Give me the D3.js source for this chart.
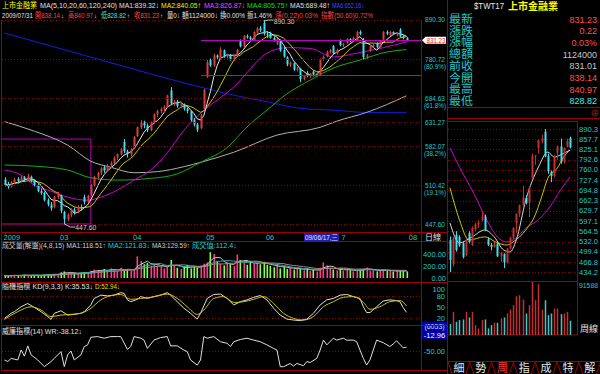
<!DOCTYPE html>
<html><head><meta charset="utf-8">
<script src="https://cdn.jsdelivr.net/npm/d3@7"></script>
<style>
html,body{margin:0;padding:0;background:#000;overflow:hidden}
svg{display:block}
text{font-family:'Liberation Sans','Noto Sans CJK TC',sans-serif}
</style></head><body>
<script>
// ---- daily candles (index 0 = early Feb 2009, last = 2009/07/31)
const dailyOpen = [520,512,508,515,521,517,524,520,525,518,510,500,497,485,478,474,490,492,466,455,462,470,466,474,490,482,494,510,525,532,542,536,545,550,560,566,590,572,566,578,602,620,632,624,614,630,648,655,660,664,702,672,676,666,670,660,655,635,626,618,660,735,778,764,790,782,804,787,792,780,790,830,815,844,840,832,853,866,882,850,852,838,822,832,805,785,766,770,753,755,730,745,738,748,741,742,780,788,800,815,796,830,818,824,835,830,832,855,834,786,802,815,824,813,834,855,846,855,846,862,842,838.14];
const dailyHigh = [524,516,518,523,524,527,526,530,527,520,512,504,499,488,482,492,499,494,468,464,472,473,477,478,494,494,512,527,534,542,545,548,553,562,568,578,596,575,578,602,622,636,634,628,632,650,658,663,668,692,710,680,680,676,672,663,657,640,630,648,706,778,782,795,793,812,806,795,794,792,808,834,846,848,843,857,870,872,890.3,856,856,842,838,834,812,788,774,772,760,758,740,750,745,752,748,782,790,803,808,818,808,834,824,838,837,842,858,860,838,794,818,822,826,832,858,860,858,857,855,866,846,840.97];
const dailyLow = [508,504,506,512,513,515,516,518,515,508,498,494,483,475,468,472,487,464,447.6,452,458,462,464,468,478,480,492,508,520,528,532,534,540,548,555,564,568,560,562,576,600,616,618,610,612,628,642,650,652,662,668,666,662,662,656,650,632,622,610,616,658,732,760,760,780,780,784,782,776,776,788,812,813,836,830,830,850,855,845,838,836,828,818,800,784,762,760,750,748,722,726,734,732,738,736,740,776,785,795,792,792,815,812,822,826,828,830,846,780,780,800,812,810,811,832,846,844,846,842,840,834,828.82];
const dailyClose = [512,508,515,520,517,524,520,526,518,510,500,497,485,478,472,490,496,468,455,462,470,466,474,472,482,492,510,525,532,540,536,545,550,560,566,575,572,566,575,600,620,630,624,614,630,648,655,660,664,690,672,676,666,672,660,655,635,626,615,646,704,772,764,790,785,806,787,792,780,789,806,815,844,840,835,855,866,860,850,848,838,832,835,803,787,766,770,753,756,730,736,738,742,741,745,780,786,800,805,796,805,818,820,835,830,838,855,850,786,790,815,818,813,830,855,850,855,850,852,842,838,831.23];
const dailyVolume = [40,35,45,50,38,42,55,48,40,45,50,42,55,60,50,70,65,95,110,80,75,85,70,90,100,95,120,140,130,110,150,125,160,140,115,170,135,150,120,145,360,280,230,250,200,240,210,190,160,180,300,200,170,150,180,220,160,190,175,210,240,260,430,400,280,240,210,260,230,200,390,300,260,220,280,240,250,230,270,220,200,180,220,160,190,150,175,140,160,150,130,160,120,140,110,170,260,210,150,140,130,160,120,145,135,110,125,140,150,175,120,130,110,125,140,115,120,105,130,118,112,110];

// long moving averages (bar index, value)
const ma20Idx = [0,5,9,14,19,25,29,34,39,44,49,54,59,69,79,85,92,99,106,114,121];
const ma20Val = [537,528,510,500,490,485,490,502,519,537,569,614,650,710,796,811,809,786,796,811,826.87];
const ma60Idx = [0,9,19,26,34,44,52,59,67,73,79,85,92,99,107,115,121];
const ma60Val = [546,544,537,523,519,522,530,551,579,621,657,694,727,757,778,799,805.75];
const ma120Idx = [0,9,19,26,32,39,46,54,59,69,82,95,100,109,121];
const ma120Val = [632,612,584,553,542,532,534,543,551,570,604,620,633,652,689.48];
const ma240Idx = [0,29,59,69,79,89,99,109,121];
const ma240Val = [852,778,710,691,676,661,657,652,652.16];

// KD and WR
const kIdx = [0,2,3,5,7,9,11,13,14,15,17,19,21,23,24,26,27,29,31,33,35,36,37,38,40,41,43,45,47,49,50,52,54,56,58,59,61,63,65,67,69,71,73,75,77,79,81,83,85,87,89,91,93,95,97,99,101,103,105,107,108,109,110,112,114,116,118,119,120,121];
const kVal = [19,33,37.5,51,60,49,37.5,24,16,33,40,28,30,33,37.5,56,74,83,81,83,90,88,70,65,71.5,79,74,79,83,90,83,65,47,33,17,33,74,85,86,74,56,65,70,77,82,70,47,28,17,14.5,12.7,17,33,56,70,74,83,85,79,74,51,35,35,51,67,70,68,65,49,35.53];
const dIdx = [0,4,8,11,14,17,20,23,26,29,31,35,38,41,44,49,52,55,58,60,63,66,69,72,75,78,81,84,87,90,93,96,99,102,105,108,110,113,116,119,121];
const dVal = [16,37.5,51,42,24,28,30,33,47,70,79,85,71.5,74,77,86,74,51,30,42,74,79,63,65,71.5,79,60,33,19,14.5,24,51,65,77,79,63,44,51,65,68,52.94];
const wrIdx = [0,1,2,4,5,6,7,8,10,12,14,15,17,18,19,20,21,23,24,25,26,28,30,32,34,35,37,38,39,41,42,43,45,47,49,50,52,54,55,56,58,59,60,61,63,65,67,68,69,71,73,75,77,79,81,82,83,84,86,87,88,90,91,92,94,95,96,97,99,100,102,103,105,106,108,109,110,111,112,114,116,117,118,120,121];
const wrVal = [-78,-83,-73,-78,-47,-66,-34,-62,-78,-99,-83,-73,-52,-99,-62,-50,-78,-62,-36,-31,-7,-5,-10,-5,-5,-5,-45,-36,-5,-10,-16,-42,-16,-8,-5,-34,-34,-47,-52,-78,-94,-78,-5,-10,-5,-21,-26,-36,-21,-14,-10,-16,-21,-31,-42,-47,-99,-99,-89,-97,-89,-96,-83,-86,-73,-47,-16,-31,-10,-16,-10,-16,-16,-21,-73,-94,-78,-47,-16,-24,-36,-28,-18,-40,-38.12];

// axis ticks
const monthLabels = ["2009","03","04","05","06","08"];
const monthIdx = [0,17,39,61,79,122];
const gridLevels = [890.30,780.72,684.63,631.27,582.07,510.42,447.60];
const pctLevels = [780.72,684.63,582.07,510.42];
const pctLabels = ["(80.9%)","(61.8%)","(38.2%)","(19.1%)"];
const lastClose = 831.23, periodHigh = 890.30, periodLow = 447.60;
const volTicks = [400,200,0];
const kdTicks = [100,80,50,20];

// ---- weekly panel
const wOpen = [537,460,553,547,527,489,559,521,570,588,600,612,540,521,515,525,485,492,466,510,545,590,620,648,672,655,735,804,830,853,882,805,755,741,815,835,786,834,862];
const wHigh = [548,548,565,552,532,542,565,580,592,600,628,618,545,528,530,527,499,495,512,548,578,622,650,710,680,706,812,808,857,872,890.3,812,758,808,838,860,832,860,866];
const wLow = [435,452,500,515,478,485,526,518,565,575,596,565,518,504,512,483,468,447.6,462,508,540,560,610,642,650,610,732,776,812,845,800,748,722,736,792,780,780,832,828.82];
const wClose = [473,543,505,521,483,537,531,575,588,594,612,569,521,515,526,485,496,466,510,545,575,620,648,672,655,704,806,806,855,860,803,756,741,805,835,786,830,852,831.23];
const wVolume = [18900,40000,22900,25800,26900,40000,30300,40000,17200,11400,25800,26900,11400,17200,21200,21200,28600,30300,37200,44000,51500,67000,68700,61200,37200,51500,91588,60100,87600,44000,60100,34300,37200,45800,45800,36000,37200,40000,24600];
const wWhiteIdx = [0,3,7,11,14,17,19,21,24,28,31,33,35,38];
const wWhiteVal = [591,528,547,569,547,505,499,537,664,769,817,801,808,823.5];
const wYellowIdx = [0,3,6,11,15,18,20,24,27,29,31,34,36,38];
const wYellowVal = [703,601,537,547,528,521,531,569,617,674,734,766,801,823];
const wMagIdx = [0,3,7,12,15,18,21,24,28,32,35,38];
const wMagVal = [830,769,696,594,547,531,544,575,601,648,696,738];
const wLevels = [890.3,857.7,825.1,792.6,760.0,727.4,694.8,662.3,629.7,597.1,564.5,532.0,499.4,466.8,434.2];

// quote table
const infoLabels = ["最新","漲跌","漲幅","總額","前收","今開","最高","最低"];
const infoValues = ["831.23","0.22","0.03%","1124000","831.01","838.14","840.97","828.82"];
const infoColors = ["#ff5050","#ff5050","#ff5050","#c8c8c8","#c8c8c8","#ff5050","#ff5050","#40e8e8"];
const tabLabels = ["細","勢","周","指","成","特","解"];

// ---------------------------------------------------------------
const svg = d3.select("body").append("svg").attr("width", 600).attr("height", 374)
  .style("background", "#000");

const FRAME = "#a00000", GRID = "#900000", AXIS = "#20c8c8";
const UP = "#d84040", DOWN = "#40e0f0";

function txt(x, y, s, color, size, opt) {
  opt = opt || {};
  const t = svg.append("text").attr("x", x).attr("y", y).attr("fill", color)
    .attr("font-size", size).text(s);
  if (opt.anchor) t.attr("text-anchor", opt.anchor);
  if (opt.w) t.attr("textLength", opt.w).attr("lengthAdjust", "spacingAndGlyphs");
  if (opt.bold) t.attr("font-weight", "bold");
  return t;
}
// one text line made of coloured pieces: [text, x, colour, width, size]
function row(yy, size, segs) {
  const t = svg.append("text").attr("y", yy).attr("font-size", size);
  segs.forEach(s => {
    const ts = t.append("tspan").attr("fill", s[2]).attr("x", s[1]).text(s[0]);
    if (s[3]) ts.attr("textLength", s[3]).attr("lengthAdjust", "spacingAndGlyphs");
    if (s[4]) ts.attr("font-size", s[4]);
  });
}
function hline(x1, x2, y, color, dash) {
  const l = svg.append("line").attr("x1", x1).attr("x2", x2).attr("y1", y).attr("y2", y)
    .attr("stroke", color).attr("stroke-width", 1).attr("shape-rendering", "crispEdges");
  if (dash) l.attr("stroke-dasharray", dash);
}
function vline(x, y1, y2, color) {
  svg.append("line").attr("x1", x).attr("x2", x).attr("y1", y1).attr("y2", y2)
    .attr("stroke", color).attr("stroke-width", 1).attr("shape-rendering", "crispEdges");
}
function movingAvg(arr, n) {
  return arr.map((v, i) => d3.mean(arr.slice(Math.max(0, i - n + 1), i + 1)));
}

// scales
const x = d3.scaleLinear().domain([0, 121]).range([4.5, 406.5]);
const y = d3.scaleLog().domain([periodLow, periodHigh]).range([224, 20]);
const yVol = d3.scaleLinear().domain([0, 400]).range([278, 254]);
const yKD = d3.scaleLinear().domain([20, 100]).range([318, 289]);
const yWR = d3.scaleLinear().domain([-100, 0]).range([367, 335]);

// ---- header rows
row(8, 8, [
  ["上市金融業", 2, "#ffff00", 35],
  ["MA(5,10,20,60,120,240)", 40, "#e0e0e0", 77],
  ["MA1:839.32↓", 119, "#e0e0e0", 40],
  ["MA2:840.05↑", 161, "#f0f000", 40],
  ["MA3:826.87↓", 204, "#ff40ff", 41],
  ["MA4:805.75↑", 247, "#00e000", 41],
  ["MA5:689.48↑", 290, "#e0e0e0", 40],
  ["MA6:652.16↓", 332, "#3050ff", 32]
]);
row(17.5, 8, [
  ["2009/07/31", 2, "#e0e0e0", 31],
  ["開838.14", 35, "#ff4040", 25], ["↓", 61, "#e0e0e0", 0, 6],
  ["高840.97", 68, "#ff4040", 25], ["↓", 94, "#e0e0e0", 0, 6],
  ["低828.82", 101, "#40e0e0", 25], ["↑", 127, "#e0e0e0", 0, 6],
  ["收831.23", 134, "#ff4040", 25], ["↑", 160, "#e0e0e0", 0, 6],
  ["量0↓", 167, "#e0e0e0", 13],
  ["額1124000↓", 182, "#e0e0e0", 36],
  ["換0.00%", 220, "#e0e0e0", 25],
  ["振1.46%", 247, "#e0e0e0", 25],
  ["漲(0.22)0.03%", 275, "#ff4040", 43],
  ["指數(50.60)0.72%", 321, "#ff4040", 52]
]);

// ---- main chart
const clip = svg.append("clipPath").attr("id", "mainClip");
clip.append("rect").attr("x", 2).attr("y", 19).attr("width", 419).attr("height", 213);
const g = svg.append("g").attr("clip-path", "url(#mainClip)");

gridLevels.forEach(v => hline(2, 421, Math.round(y(v)) + 0.5, GRID, "1,2"));

// magenta marker box around the low and range lines
g.append("path").attr("fill", "none").attr("stroke", "#c000c0")
  .attr("d", `M2,${y(596)}H${x(26)}V${y(periodLow)}H2`);
hline(x(59), 421, Math.round(y(lastClose)) + 0.5, "#c000c0");
hline(x(59), 421, Math.round(y(738.5)) + 0.5, "#c000c0");

[[ma240Idx, ma240Val, "#1020e0"], [ma120Idx, ma120Val, "#b0b0b0"],
 [ma60Idx, ma60Val, "#10b010"], [ma20Idx, ma20Val, "#d000d0"]].forEach(m => {
  g.append("path").attr("fill", "none").attr("stroke", m[2]).attr("stroke-width", 1)
    .attr("d", d3.line().x((d, i) => x(m[0][i])).y(d => y(d)).curve(d3.curveMonotoneX)(m[1]));
});

const idxAll = d3.range(dailyClose.length);
const ma5 = movingAvg(dailyClose, 5), ma10 = movingAvg(dailyClose, 10);
g.append("path").attr("fill", "none").attr("stroke", "#c8c800")
  .attr("d", d3.line().x((d, i) => x(i)).y(d => y(d))(ma10));
g.append("path").attr("fill", "none").attr("stroke", "#e8e8e8")
  .attr("d", d3.line().x((d, i) => x(i)).y(d => y(d))(ma5));

const candles = g.selectAll(".c").data(idxAll).enter().append("g");
candles.append("line")
  .attr("x1", i => Math.round(x(i)) + 0.5).attr("x2", i => Math.round(x(i)) + 0.5)
  .attr("y1", i => y(dailyHigh[i])).attr("y2", i => y(dailyLow[i]))
  .attr("stroke", i => dailyClose[i] >= dailyOpen[i] ? UP : DOWN);
candles.append("rect")
  .attr("x", i => Math.round(x(i)) - 0.5).attr("width", 2)
  .attr("y", i => y(Math.max(dailyOpen[i], dailyClose[i])))
  .attr("height", i => Math.max(1, Math.abs(y(dailyOpen[i]) - y(dailyClose[i]))))
  .attr("fill", i => dailyClose[i] >= dailyOpen[i] ? UP : DOWN);

// high / low markers
const hiI = dailyHigh.indexOf(periodHigh), loI = dailyLow.indexOf(periodLow);
svg.append("path").attr("fill", "none").attr("stroke", "#c0c0c0")
  .attr("d", `M${x(hiI)},${y(periodHigh) + 1}L${x(hiI) + 5},${y(periodHigh)}H${x(hiI) + 10}`);
txt(x(hiI) + 10, y(periodHigh) + 3.5, periodHigh.toFixed(2), "#d0d0d0", 7.5, {w: 21});
svg.append("path").attr("fill", "none").attr("stroke", "#c0c0c0")
  .attr("d", `M${x(loI)},${y(periodLow)}L${x(loI) + 6},${y(periodLow) + 3}H${x(loI) + 11}`);
txt(x(loI) + 11, y(periodLow) + 6, periodLow.toFixed(2), "#d0d0d0", 7.5, {w: 21});

// right price axis
gridLevels.slice(1).forEach(v => txt(425, y(v) + 3, v.toFixed(2), AXIS, 7.5, {w: 20}));
txt(425, y(periodHigh) + 2, periodHigh.toFixed(2), AXIS, 7, {w: 20});
pctLevels.forEach((v, i) => txt(424, y(v) + 10, pctLabels[i], AXIS, 7.5, {w: 22}));
const yl = y(lastClose);
svg.append("path").attr("fill", "#ffffff")
  .attr("d", `M422,${yl}L425.5,${yl - 3.5}H446V${yl + 3.5}H425.5Z`);
txt(436, yl + 3, lastClose.toFixed(2), "#ff2020", 7.5, {anchor: "middle", w: 19});

// date row
monthLabels.forEach((m, i) => txt(x(monthIdx[i]) - 1, 239.5, m, AXIS, 7.5));
monthIdx.forEach(i => vline(Math.round(x(i)) + 0.5, 232, 235, FRAME));
svg.append("rect").attr("x", 304).attr("y", 233).attr("width", 35).attr("height", 8).attr("fill", "#2020b0");
txt(305, 239.5, "09/06/17,三", "#e0e0ff", 7.5, {w: 33});
txt(341.5, 239.5, "7", AXIS, 7.5);
txt(425, 239.8, "日線", "#e0e0e0", 8);

// ---- volume panel
row(248, 7.5, [
  ["成交量(解盤)(4,8,15) MA1:118.51↑", 2, "#d0d0d0", 104],
  ["MA2:121.83↓", 108, "#20d0d0", 42],
  ["MA3:129.59↑", 152, "#d0d0d0", 38],
  ["成交值:112.4↓", 192, "#20d0d0", 45]
]);
svg.selectAll(".vb").data(idxAll).enter().append("rect")
  .attr("x", i => Math.round(x(i)) - 0.5).attr("width", 1.6)
  .attr("y", i => yVol(dailyVolume[i])).attr("height", i => yVol(0) - yVol(dailyVolume[i]))
  .attr("fill", i => dailyClose[i] >= dailyOpen[i] ? "#ff3c8c" : "#80ff50");
[[4, "#c8c8c8"], [8, "#20b0b0"], [15, "#b08080"]].forEach(m => {
  svg.append("path").attr("fill", "none").attr("stroke", m[1]).attr("stroke-width", 1)
    .attr("d", d3.line().x((d, i) => x(i)).y(d => yVol(d))(movingAvg(dailyVolume, m[0])));
});
volTicks.forEach(v => txt(446, yVol(v) + 2.5, v.toFixed(2), AXIS, 7.5, {anchor: "end"}));

// ---- KD panel
row(289, 7.5, [
  ["隨機指標 KD(9,3,3) K:35.53↓", 2, "#e0e0e0", 91],
  ["D:52.94↓", 95, "#e0e000", 25]
]);
[80, 20].forEach(v => hline(2, 421, Math.round(yKD(v)) + 0.5, GRID, "1,2"));
svg.append("path").attr("fill", "none").attr("stroke", "#e0e0e0")
  .attr("d", d3.line().x((d, i) => x(kIdx[i])).y(d => yKD(d))(kVal));
svg.append("path").attr("fill", "none").attr("stroke", "#c8c800")
  .attr("d", d3.line().x((d, i) => x(dIdx[i])).y(d => yKD(d)).curve(d3.curveMonotoneX)(dVal));
kdTicks.forEach(v => txt(445, yKD(v) + 2.5, String(v), AXIS, 7.5, {anchor: "end"}));

// ---- WR panel
txt(2, 334, "威廉指標(14) WR:-38.12↓", "#e0e0e0", 7.5, {w: 80});
hline(2, 421, Math.round(yWR(-50)) + 0.5, GRID, "1,2");
svg.append("path").attr("fill", "none").attr("stroke", "#e0e0e0")
  .attr("d", d3.line().x((d, i) => x(wrIdx[i])).y(d => yWR(d))(wrVal));
txt(445, yWR(-50) + 2.5, "-50.00", AXIS, 7.5, {anchor: "end"});
svg.append("rect").attr("x", 422).attr("y", 322).attr("width", 25).attr("height", 17).attr("fill", "#0000a8");
txt(434.5, 329, "(6053)", "#c0e0ff", 7, {anchor: "middle"});
txt(434.5, 337.5, "-12.96", "#ffffff", 7.5, {anchor: "middle"});

// ---- frames of the left panels
[232, 241, 282, 325, 370].forEach(v => hline(1, 447, v + 0.5, FRAME));
vline(1.5, 20, 370, FRAME);
vline(421.5, 20, 370, FRAME);
vline(447.5, 0, 374, FRAME);

// ---- right info panel
txt(474, 9, "$TWT17", "#e8e8e8", 9, {w: 30});
txt(508, 9.5, "上市金融業", "#ffff00", 10, {w: 50, bold: true});
infoLabels.forEach((s, i) => {
  const cy = 19 + i * 11.7;
  txt(449, cy + 4, s, "#20c8c8", 11, {w: 24});
  txt(597, cy + 3.5, infoValues[i], infoColors[i], 9, {anchor: "end"});
});
hline(447, 600, 107.5, FRAME);
hline(447, 600, 118.5, FRAME);
svg.append("circle").attr("cx", 595).attr("cy", 113).attr("r", 3).attr("fill", "none").attr("stroke", FRAME);
hline(592, 598, 113, FRAME); vline(595, 110, 116, FRAME);

// weekly chart
const wx = d3.scaleLinear().domain([0, 38]).range([450, 570]);
const wy = d3.scaleLinear().domain([434.2, 890.3]).range([272.3, 129]);
const wyV = d3.scaleLinear().domain([0, 91588]).range([335, 282]);
svg.append("rect").attr("x", 447.5).attr("y", 121.5).attr("width", 130).attr("height", 213.5)
  .attr("fill", "none").attr("stroke", FRAME);
hline(447, 578, 281.5, FRAME);
wLevels.forEach(v => {
  hline(448, 577, Math.round(wy(v)) + 0.5, GRID, "1,2");
  txt(579, wy(v) + 2.5, v.toFixed(1), AXIS, 7.5, {w: 19});
});
const wIdx = d3.range(wClose.length);
const wg = svg.append("g");
[[wMagIdx, wMagVal, "#d000d0"], [wYellowIdx, wYellowVal, "#c8c800"], [wWhiteIdx, wWhiteVal, "#d8d8d8"]].forEach(m => {
  wg.append("path").attr("fill", "none").attr("stroke", m[2])
    .attr("d", d3.line().x((d, i) => wx(m[0][i])).y(d => wy(d)).curve(d3.curveMonotoneX)(m[1]));
});
const wc = wg.selectAll(".w").data(wIdx).enter().append("g");
wc.append("line")
  .attr("x1", j => Math.round(wx(j)) + 0.5).attr("x2", j => Math.round(wx(j)) + 0.5)
  .attr("y1", j => wy(wHigh[j])).attr("y2", j => wy(wLow[j]))
  .attr("stroke", j => wClose[j] >= wOpen[j] ? "#c03030" : DOWN);
wc.append("rect")
  .attr("x", j => Math.round(wx(j)) - 0.5).attr("width", 2)
  .attr("y", j => wy(Math.max(wOpen[j], wClose[j])))
  .attr("height", j => Math.max(1, Math.abs(wy(wOpen[j]) - wy(wClose[j]))))
  .attr("fill", j => wClose[j] >= wOpen[j] ? "#c03030" : DOWN);
wg.selectAll(".wv").data(wIdx).enter().append("rect")
  .attr("x", j => Math.round(wx(j)) - 0.25).attr("width", 1.5)
  .attr("y", j => wyV(wVolume[j])).attr("height", j => wyV(0) - wyV(wVolume[j]))
  .attr("fill", j => wClose[j] >= wOpen[j] ? "#c03030" : "#40c8c8");
txt(579, 288, d3.max(wVolume).toString(), AXIS, 7.5, {w: 19});
txt(580, 332, "周線", "#e0e0e0", 9);

// tab buttons
hline(447, 600, 361.5, FRAME);
const tabW = 21.8;
tabLabels.forEach((s, i) => {
  const x0 = 448 + i * tabW;
  svg.append("path").attr("fill", "none").attr("stroke", FRAME)
    .attr("d", `M${x0},362L${x0 + 4},374M${x0 + tabW},362L${x0 + tabW - 4},374`);
  txt(x0 + tabW / 2, 372, s, i === 2 ? "#ff3030" : "#e8e8e8", 11, {anchor: "middle"});
});
</script></body></html>
